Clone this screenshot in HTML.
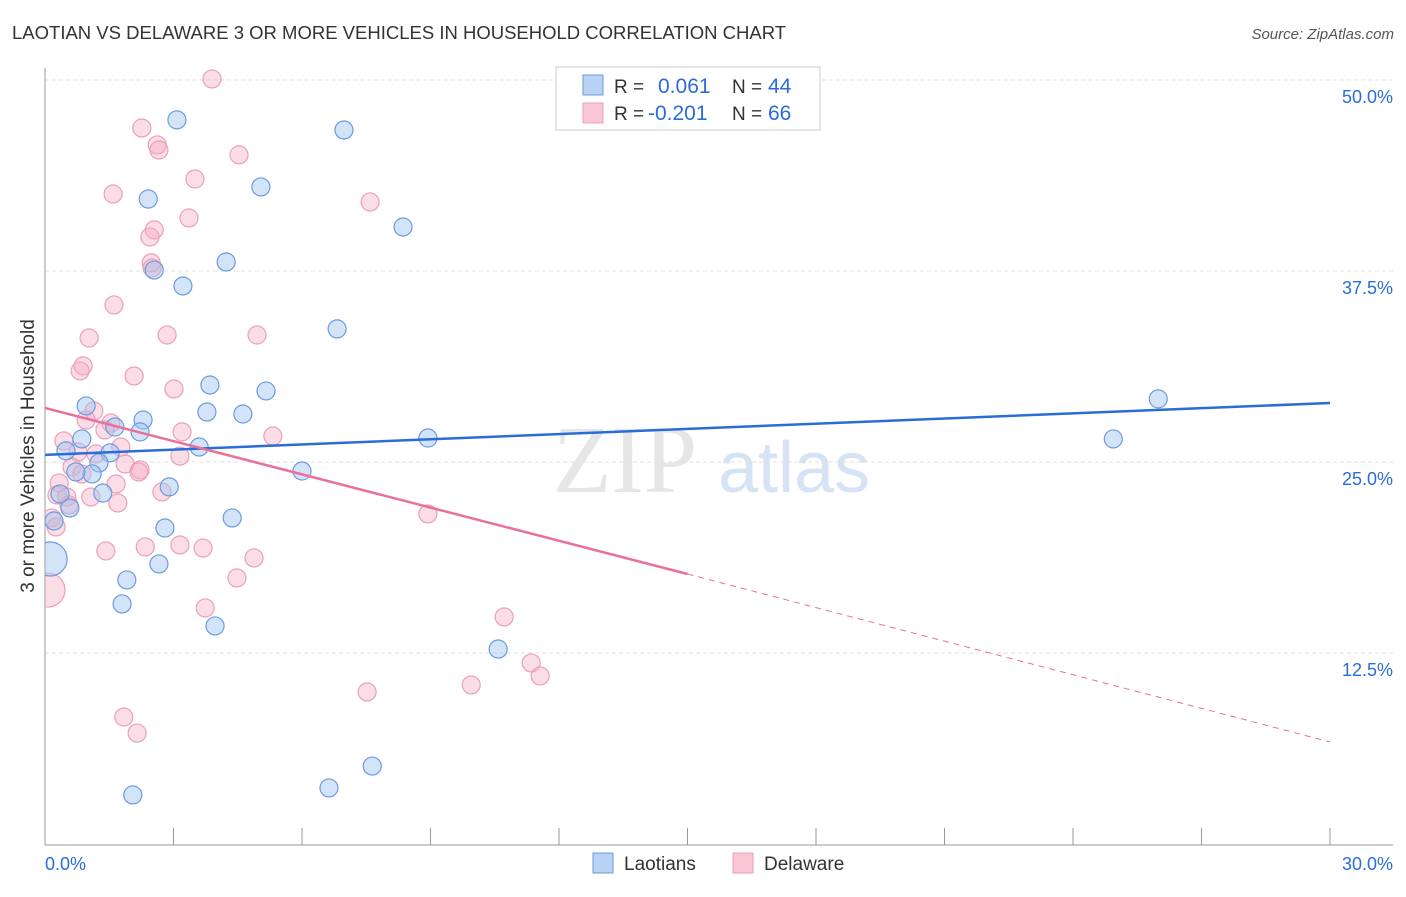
<!DOCTYPE html>
<html><head><meta charset="utf-8"><style>
body{margin:0;background:#fff;font-family:"Liberation Sans",sans-serif;}
</style></head><body>
<svg width="1406" height="892" xmlns="http://www.w3.org/2000/svg">
<defs><clipPath id="plotclip"><rect x="45" y="60" width="1360" height="785"/></clipPath></defs>
<text x="12" y="39" font-size="18.5" fill="#333">LAOTIAN VS DELAWARE 3 OR MORE VEHICLES IN HOUSEHOLD CORRELATION CHART</text>
<text x="1394" y="39" font-size="15" fill="#555" font-style="italic" text-anchor="end">Source: ZipAtlas.com</text>
<g>
<text x="553" y="492" font-size="96" font-family="Liberation Serif,serif" fill="#e6e6e6">ZIP</text>
<text x="718" y="492" font-size="72" fill="#d5e3f5">atlas</text>
</g>
<g id="grid"></g>
<g id="axes"></g>
<g id="marks" clip-path="url(#plotclip)"></g>
<text transform="translate(34,456) rotate(-90)" font-size="19" fill="#333" text-anchor="middle">3 or more Vehicles in Household</text>
<g>
<rect x="556" y="67" width="264" height="63" fill="#fff" stroke="#ccc"/>
<rect x="583" y="75" width="20" height="20" fill="#b8d2f3" stroke="#6b9be0"/>
<rect x="583" y="103" width="20" height="20" fill="#f9c6d6" stroke="#eba0b8"/>
<text x="614" y="93" font-size="19" fill="#333">R =</text><text x="658" y="93" font-size="21" fill="#2a6dd9">0.061</text>
<text x="732" y="93" font-size="19" fill="#333">N =</text><text x="768" y="93" font-size="21" fill="#2a6dd9">44</text>
<text x="614" y="120" font-size="19" fill="#333">R =</text><text x="648" y="120" font-size="21" fill="#2a6dd9">-0.201</text>
<text x="732" y="120" font-size="19" fill="#333">N =</text><text x="768" y="120" font-size="21" fill="#2a6dd9">66</text>
</g>
<g>
<rect x="593" y="853" width="20" height="20" fill="#b8d2f3" stroke="#6b9be0"/>
<text x="624" y="870" font-size="19" fill="#333">Laotians</text>
<rect x="733" y="853" width="20" height="20" fill="#f9c6d6" stroke="#eba0b8"/>
<text x="764" y="870" font-size="19" fill="#333">Delaware</text>
</g>
</svg>
<script>
const yTicks=[12.5,25,37.5,50];
const yTickLabels=["12.5%","25.0%","37.5%","50.0%"];
const xTickLabels=["0.0%","30.0%"];
const blueX=[3.08,6.98,2.41,5.04,8.36,4.23,2.55,3.22,6.82,3.85,5.16,3.78,4.62,0.96,2.29,1.63,2.22,0.86,0.49,1.52,3.6,8.94,6.0,1.26,1.1,0.72,2.9,0.35,1.35,0.58,4.37,2.8,0.21,2.66,1.91,1.8,3.97,10.58,7.64,6.63,2.05,25.99,24.94,0.12];
const blueY=[47.39,46.73,42.21,43.0,40.38,38.09,37.56,36.52,33.71,30.04,29.65,28.27,28.14,28.67,27.75,27.29,26.97,26.51,25.73,25.6,25.98,26.57,24.41,24.94,24.22,24.35,23.37,22.91,22.97,21.99,21.34,20.68,21.14,18.33,17.28,15.71,14.27,12.76,5.1,3.67,3.21,29.13,26.51,18.65];
const blueBig=[43];
const pinkX=[3.9,2.26,2.62,2.66,4.53,3.5,1.59,7.59,3.36,2.55,2.45,2.48,2.5,1.61,2.85,4.95,1.03,0.89,0.82,2.08,3.01,1.14,0.96,1.54,1.4,0.44,3.2,5.32,1.77,0.77,1.19,3.15,1.87,2.22,2.19,0.63,0.86,0.33,1.66,0.28,0.51,1.07,2.73,1.7,0.56,0.16,0.26,8.94,2.34,1.42,3.15,3.69,4.88,4.48,3.74,10.72,11.35,11.56,9.95,7.52,1.84,2.15,0.07];
const pinkY=[50.07,46.86,45.75,45.42,45.1,43.52,42.54,42.02,40.97,40.19,39.73,38.03,37.7,35.28,33.31,33.31,33.12,31.29,30.96,30.63,29.78,28.34,27.75,27.55,27.1,26.38,26.97,26.7,25.98,25.66,25.53,25.39,24.87,24.48,24.35,24.67,24.22,23.63,23.56,22.84,22.71,22.71,23.04,22.32,22.19,21.34,20.75,21.6,19.44,19.18,19.57,19.37,18.72,17.41,15.45,14.86,11.85,11.0,10.41,9.95,8.31,7.26,16.62];
const pinkBig=[62];
const blueTrend=[25.47,28.86];
const pinkTrend=[28.54,17.67,6.68];
const X0=45,X1=1330,Y0=844,YP=15.28;
const sx=v=>X0+v/30*(X1-X0), sy=v=>Y0-v*YP;
const NS="http://www.w3.org/2000/svg";
function mk(t,a,p){const e=document.createElementNS(NS,t);for(const k in a)e.setAttribute(k,a[k]);p.appendChild(e);return e;}
const grid=document.getElementById('grid'),axes=document.getElementById('axes'),marks=document.getElementById('marks');
yTicks.forEach((t,i)=>{
 const l=mk('line',{x1:X0,x2:1393,y1:sy(t),y2:sy(t),stroke:'#e2e2e2','stroke-dasharray':'4,3'},grid);
 
 
 const tx=mk('text',{x:1393,y:sy(t)+23,'font-size':18,fill:'#2a6dd9','text-anchor':'end'},grid);
 tx.textContent=yTickLabels[i];
 
 
});
const ax=mk('line',{x1:X0,x2:X0,y1:68,y2:845,stroke:'#999'},axes);


const bx=mk('line',{x1:X0,x2:1393,y1:845,y2:845,stroke:'#999'},axes);


for(let k=0;k<=10;k++){
 const tk=mk('line',{x1:sx(k*3),x2:sx(k*3),y1:828,y2:845,stroke:'#999'},axes);
 
 
}
const xl0=mk('text',{x:45,y:870,'font-size':18,fill:'#2a6dd9'},axes);xl0.textContent=xTickLabels[0];


const xl1=mk('text',{x:1393,y:870,'font-size':18,fill:'#2a6dd9','text-anchor':'end'},axes);xl1.textContent=xTickLabels[1];


function pts(xs,ys,big,fill,stroke,name){
 xs.forEach((x,i)=>{
  const c=mk('circle',{cx:sx(x),cy:sy(ys[i]),r:big.includes(i)?17:9,fill:fill,stroke:stroke,'stroke-width':1.2},marks);
  
  
 });
}
pts(pinkX,pinkY,pinkBig,'rgba(246,170,195,0.4)','#eba0b8','delaware-point');
pts(blueX,blueY,blueBig,'rgba(160,196,240,0.45)','#6b9be0','laotians-point');
const bl=mk('line',{x1:sx(0),y1:sy(blueTrend[0]),x2:sx(30),y2:sy(blueTrend[1]),stroke:'#2a6dd9','stroke-width':2.5},marks);


const pl=mk('line',{x1:sx(0),y1:sy(pinkTrend[0]),x2:sx(15),y2:sy(pinkTrend[1]),stroke:'#e8709a','stroke-width':2.5},marks);


const pd=mk('line',{x1:sx(15),y1:sy(pinkTrend[1]),x2:sx(30),y2:sy(pinkTrend[2]),stroke:'#e8709a','stroke-width':1,'stroke-dasharray':'6,5'},marks);


</script>
</body></html>
